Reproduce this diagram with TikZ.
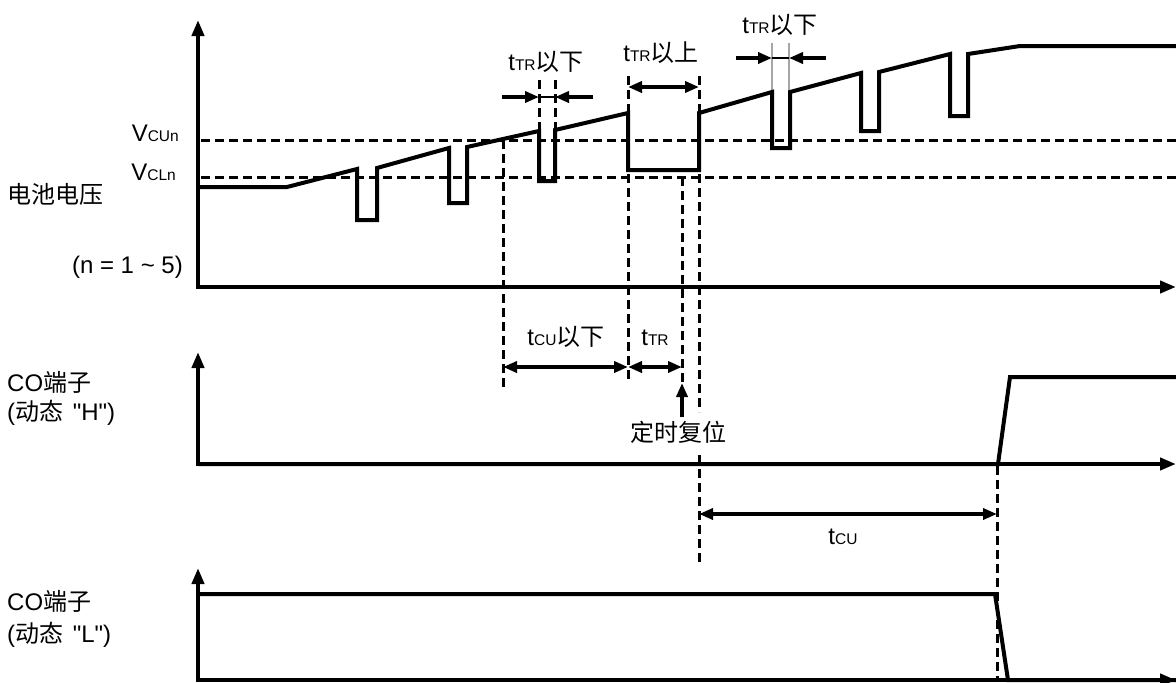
\documentclass[tikz,border=0pt]{standalone}
\usepackage{fontspec}
\setmainfont{Liberation Sans}
\newfontfamily\cjk{Noto Sans CJK SC}
\newfontfamily\qfont{Liberation Sans}[Ligatures=TeXOff]
\usetikzlibrary{arrows.meta}
\newcommand{\smallsub}[1]{{\fontsize{15.5}{15.5}\selectfont #1}}
\begin{document}
\begin{tikzpicture}[x=1pt,y=-1pt,
  font=\fontsize{24}{28}\selectfont,
  wave/.style={line width=4pt,line join=miter},
  axisline/.style={line width=4pt,{Triangle[length=16pt,width=12pt]}-{Triangle[length=16pt,width=12pt]}},
  dashline/.style={line width=3pt,dash pattern=on 9pt off 5pt},
  dimboth/.style={line width=3.5pt,{Triangle[length=14pt,width=11pt]}-{Triangle[length=14pt,width=11pt]}},
  dimto/.style={line width=3.5pt,-{Triangle[length=14pt,width=11pt]}},
  thinlink/.style={line width=1.8pt},
  guide/.style={line width=1.5pt,draw=black!35},
  lbl/.style={inner sep=0pt}]
\useasboundingbox (0,0) rectangle (1176,683);

% axes
\draw[axisline] (198,20) -- (198,287) -- (1176,287);
\draw[axisline] (198,352) -- (198,464) -- (1176,464);
\draw[axisline] (198,568) -- (198,680) -- (1176,680);

% threshold lines
\draw[dashline] (201,140) -- (1176,140);
\draw[dashline] (201,177) -- (1176,177);

% vertical dashed guides
\draw[dashline] (503,140) -- (503,388);
\draw[dashline] (539,80) -- (539,181);
\draw[dashline] (555,80) -- (555,181);
\draw[dashline] (628,76) -- (628,383);
\draw[dashline] (699,76) -- (699,412);
\draw[dashline] (699,455) -- (699,566);
\draw[dashline] (682,177) -- (682,383);
\draw[dashline] (997,466) -- (997,680);

% grey guides
\draw[guide] (772,43) -- (772,92);
\draw[guide] (789,43) -- (789,92);

% battery voltage waveform
\draw[wave] (198,187) -- (287,187) -- (357,169) -- (357,220) -- (377,220) -- (377,168)
  -- (449,148) -- (449,203) -- (467,203) -- (467,147) -- (539,131) -- (539,181)
  -- (555,181) -- (555,130) -- (628,113) -- (628,170) -- (699,170) -- (699,113)
  -- (772,92) -- (772,148) -- (790,148) -- (790,92) -- (861,73) -- (861,131)
  -- (879,131) -- (879,72) -- (950,54) -- (950,116) -- (968,116) -- (968,54)
  -- (1020,46) -- (1176,46);

% CO (H)
\draw[wave] (198,464) -- (998,464) -- (1010,377) -- (1176,377);
% CO (L)
\draw[wave] (198,594) -- (995,594) -- (1008,680) -- (1176,680);

% dimension arrows
\draw[dimto] (502,97) -- (539,97);
\draw[dimto] (593,97) -- (555,97);
\draw[thinlink] (539,97) -- (555,97);
\draw[dimboth] (628,87) -- (699,87);
\draw[dimto] (736,58) -- (772,58);
\draw[dimto] (826,58) -- (789,58);
\draw[thinlink] (772,58) -- (789,58);
\draw[dimboth] (503,367) -- (628,367);
\draw[dimboth] (628,367) -- (682,367);
\draw[dimto] (682,417) -- (682,383);
\draw[dimboth] (699,514) -- (997,514);

% labels
\node[lbl,anchor=east] (vcu) at (179,133) {V\smallsub{CUn}};
\node[lbl,anchor=east] (vcl) at (176,172) {V\smallsub{CLn}};
\node[lbl,anchor=west] (bat) at (7,194) {\cjk 电池电压};
\node[lbl,anchor=east] (nn) at (183,267) {(n = 1 \textasciitilde{} 5)};
\node[lbl,anchor=west] (coh1) at (7,382) {CO{\cjk 端子}};
\node[lbl,anchor=west] (coh2) at (7,413) {({\cjk 动态}\hspace{0.4em}{\qfont "H"})};
\node[lbl,anchor=west] (col1) at (7,601) {CO{\cjk 端子}};
\node[lbl,anchor=west] (col2) at (7,635) {({\cjk 动态}\hspace{0.4em}{\qfont "L"})};

\node[lbl] (ttr1) at (546,62) {t\smallsub{TR}{\cjk 以下}};
\node[lbl] (ttr2) at (661,53) {t\smallsub{TR}{\cjk 以上}};
\node[lbl] (ttr3) at (780,25) {t\smallsub{TR}{\cjk 以下}};
\node[lbl] (tcu1) at (566,337) {t\smallsub{CU}{\cjk 以下}};
\node[lbl] (ttr4) at (655,338) {t\smallsub{TR}};
\node[lbl] (reset) at (678,432) {\cjk 定时复位};
\node[lbl] (tcu2) at (843,537) {t\smallsub{CU}};
\end{tikzpicture}
\end{document}
